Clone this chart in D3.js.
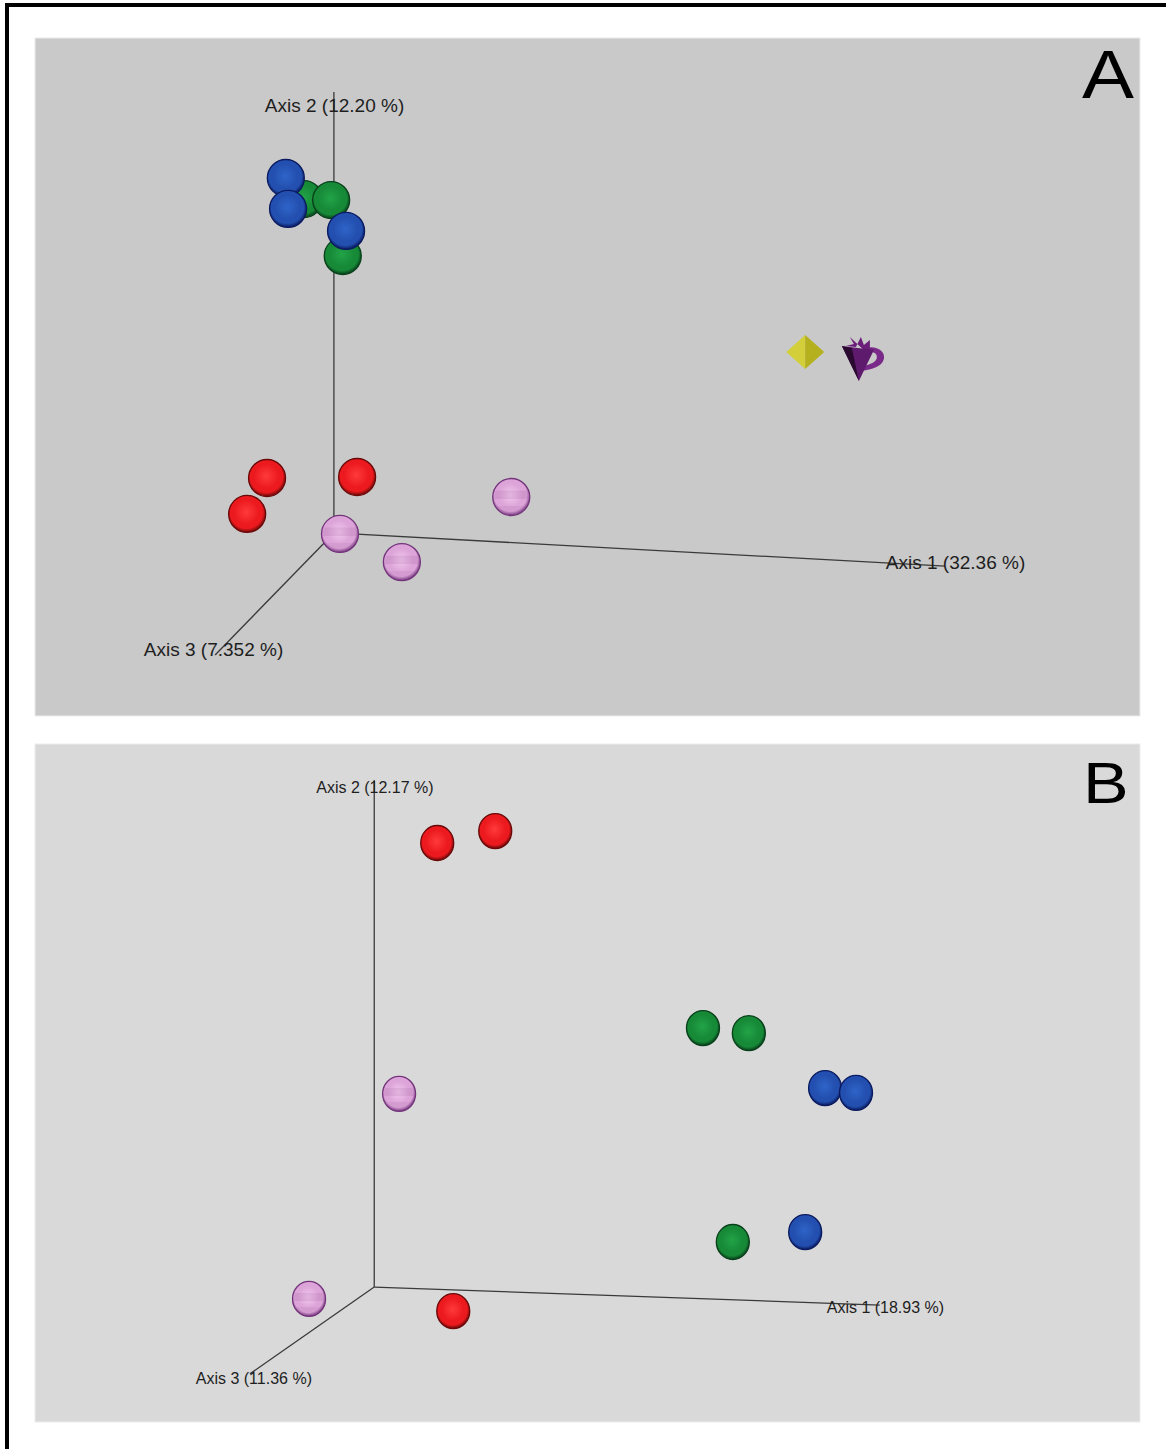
<!DOCTYPE html>
<html>
<head>
<meta charset="utf-8">
<script src="https://cdn.jsdelivr.net/npm/d3@7"></script>
<style>
  html, body { margin: 0; padding: 0; background: #fff; }
  svg { display: block; }
  text { font-family: "Liberation Sans", Arial, sans-serif; }
</style>
</head>
<body>
<svg id="fig" width="1166" height="1449"></svg>
<script>
// PCoA ordination, projected onto the view plane (each panel spans -1..1 on both axes)

// Panel A
const xA = {
  green: [-0.513, -0.464, -0.443],
  blue:  [-0.546, -0.542, -0.437],
  red:   [-0.580, -0.616, -0.417],
  pink:  [-0.448, -0.336, -0.138]
};
const yA = {
  green: [0.525, 0.522, 0.357],
  blue:  [0.587, 0.496, 0.431],
  red:   [-0.298, -0.404, -0.295],
  pink:  [-0.463, -0.546, -0.354]
};
const drawOrderA = ["green", "blue", "red", "pink"];
const otherXA = [0.394, 0.493];   // yellow octahedron, purple glyph
const otherYA = [0.074, 0.059];
const axisLabelsA = ["Axis 1 (32.36 %)", "Axis 2 (12.20 %)", "Axis 3 (7.352 %)"];
const axisOriginA = [-0.459, -0.460];
const axisEndXA = [0.647, -0.459, -0.674];
const axisEndYA = [-0.558, 0.841, -0.820];

// Panel B
const xB = {
  red:   [-0.272, -0.167, -0.243],
  green: [0.209, 0.292, 0.263],
  blue:  [0.430, 0.486, 0.394],
  pink:  [-0.341, -0.504]
};
const yB = {
  red:   [0.708, 0.743, -0.673],
  green: [0.162, 0.147, -0.469],
  blue:  [-0.015, -0.029, -0.440],
  pink:  [-0.032, -0.637]
};
const drawOrderB = ["red", "green", "blue", "pink"];
const axisLabelsB = ["Axis 1 (18.93 %)", "Axis 2 (12.17 %)", "Axis 3 (11.36 %)"];
const axisOriginB = [-0.386, -0.602];
const axisEndXB = [0.529, -0.386, -0.611];
const axisEndYB = [-0.655, 0.894, -0.858];

// sphere shading: highlight, body, rim
const palette = {
  red:   ["#ff3a3a", "#ec1a1e", "#6a0808"],
  blue:  ["#2f64c8", "#2350b0", "#0a1a60"],
  green: ["#22a448", "#178a38", "#08401a"],
  pink:  ["#f2c8ee", "#dca4d8", "#74347c"]
};

const svg = d3.select("#fig");
const defs = svg.append("defs");
Object.entries(palette).forEach(([k, c]) => {
  const g = defs.append("radialGradient").attr("id", "sph-" + k)
    .attr("cx", "48%").attr("cy", "45%").attr("r", "55%");
  g.append("stop").attr("offset", "0%").attr("stop-color", c[0]);
  g.append("stop").attr("offset", "60%").attr("stop-color", c[1]);
  g.append("stop").attr("offset", "80%").attr("stop-color", c[1]);
  g.append("stop").attr("offset", "100%").attr("stop-color", c[2]);
});
// banding on the pink spheres
const pb = defs.append("linearGradient").attr("id", "pinkBands")
  .attr("x1", 0).attr("y1", 0).attr("x2", 0).attr("y2", 1);
[[0, 0], [0.3, 0], [0.32, 0.15], [0.55, 0.15], [0.57, 0], [0.75, 0], [0.77, 0.1], [1, 0.1]]
  .forEach(([o, a]) => pb.append("stop").attr("offset", o).attr("stop-color", "#8a4a8a").attr("stop-opacity", a));

// frame (top and left rule)
svg.append("rect").attr("x", 5).attr("y", 3).attr("width", 1161).attr("height", 4).attr("fill", "#000");
svg.append("rect").attr("x", 5).attr("y", 3).attr("width", 4).attr("height", 1446).attr("fill", "#000");

function panel(opt) {
  const g = svg.append("g");
  g.append("rect").attr("x", opt.x0).attr("y", opt.y0)
    .attr("width", opt.x1 - opt.x0).attr("height", opt.y1 - opt.y0)
    .attr("fill", opt.bg).attr("stroke", "#ececec").attr("stroke-width", 1);
  const sx = d3.scaleLinear().domain([-1, 1]).range([opt.x0, opt.x1]);
  const sy = d3.scaleLinear().domain([-1, 1]).range([opt.y1, opt.y0]);

  // axes
  const o = opt.origin;
  opt.endX.forEach((ex, i) => {
    g.append("line")
      .attr("x1", sx(o[0])).attr("y1", sy(o[1]))
      .attr("x2", sx(ex)).attr("y2", sy(opt.endY[i]))
      .attr("stroke", "#3a3a3a").attr("stroke-width", 1.3);
  });
  opt.labels.forEach((t, i) => {
    g.append("text").attr("x", sx(opt.labX[i])).attr("y", sy(opt.labY[i]))
      .attr("font-size", opt.fs).attr("fill", "#1e1e1e").text(t);
  });
  g.append("text")
    .attr("transform", `translate(${opt.letterX},${opt.letterY}) scale(${opt.letterSx},1)`)
    .attr("font-size", opt.letterFs).attr("fill", "#000").text(opt.letter);

  // spheres
  opt.order.forEach(k => {
    const pts = opt.xs[k].map((v, i) => [v, opt.ys[k][i]]);
    const s = g.selectAll(null).data(pts).enter();
    s.append("ellipse").attr("cx", d => sx(d[0])).attr("cy", d => sy(d[1]))
      .attr("rx", opt.rx).attr("ry", opt.ry).attr("fill", `url(#sph-${k})`)
      .attr("stroke", palette[k][2]).attr("stroke-width", 1.3);
    if (k === "pink") {
      s.append("ellipse").attr("cx", d => sx(d[0])).attr("cy", d => sy(d[1]))
        .attr("rx", opt.rx - 1.5).attr("ry", opt.ry - 1.5).attr("fill", "url(#pinkBands)");
    }
  });
  return { g, sx, sy };
}

const A = panel({
  x0: 35, x1: 1140, y0: 38, y1: 716, bg: "#c9c9c9",
  origin: axisOriginA, endX: axisEndXA, endY: axisEndYA,
  labels: axisLabelsA, labX: [0.540, -0.584, -0.803], labY: [-0.566, 0.782, -0.823],
  fs: 19, letter: "A", letterX: 1082, letterY: 98, letterFs: 69, letterSx: 1.13,
  order: drawOrderA, xs: xA, ys: yA, rx: 18.5, ry: 18.5
});

// yellow octahedron
{
  const cx = A.sx(otherXA[0]), cy = A.sy(otherYA[0]);
  const w = 19, h = 17;
  A.g.append("path").attr("d", `M${cx - w},${cy} L${cx},${cy - h} L${cx},${cy + h} Z`).attr("fill", "#d2cf3a");
  A.g.append("path").attr("d", `M${cx},${cy - h} L${cx + w},${cy} L${cx},${cy + h} Z`).attr("fill", "#b4b01e");
}
// purple glyph: inverted cone with star cap and side loop
{
  const cx = A.sx(otherXA[1]), cy = A.sy(otherYA[1]);
  const gp = A.g.append("g").attr("transform", `translate(${cx},${cy})`);
  gp.append("path")
    .attr("d", "M6,-9 C16,-12 26,-6 24,2 C22,10 12,12 2,14 L4,9 C11,7 17,5 17,0 C17,-5 11,-6 6,-4 Z")
    .attr("fill", "#7a2a88");
  gp.append("path")
    .attr("d", "M-10,-20 L-6,-13 L-14,-11 L-4,-10 L1,-20 L4,-12 L10,-17 L10,-9 L14,-7 L6,-5 Z")
    .attr("fill", "#6a1e7a");
  gp.append("path").attr("d", "M-18,-11 L14,-7 L-1,24 Z").attr("fill", "#5e1a6c");
  gp.append("path").attr("d", "M-18,-11 L-8,-9 L-1,24 Z").attr("fill", "#2a0a30");
}

panel({
  x0: 35, x1: 1140, y0: 744, y1: 1422, bg: "#d9d9d9",
  origin: axisOriginB, endX: axisEndXB, endY: axisEndYB,
  labels: axisLabelsB, labX: [0.433, -0.491, -0.709], labY: [-0.678, 0.855, -0.888],
  fs: 16, letter: "B", letterX: 1083, letterY: 803, letterFs: 58, letterSx: 1.18,
  order: drawOrderB, xs: xB, ys: yB, rx: 16.5, ry: 17.5
});
</script>
</body>
</html>
